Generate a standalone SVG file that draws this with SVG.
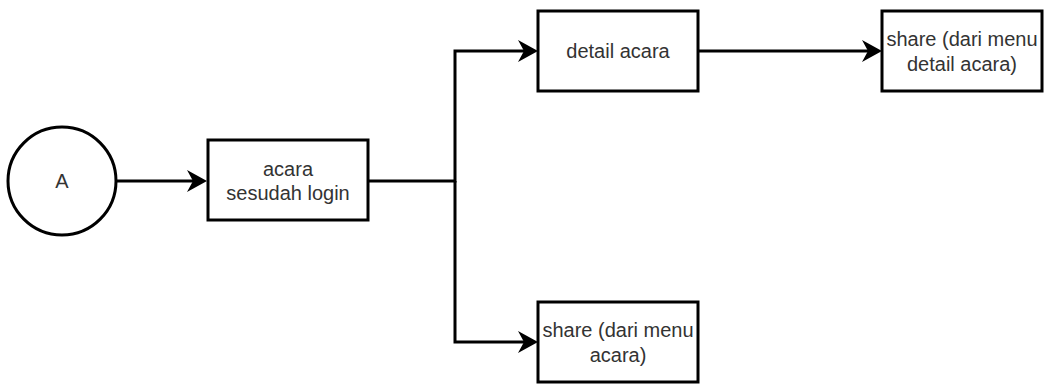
<svg xmlns="http://www.w3.org/2000/svg" width="1045" height="387" viewBox="0 0 1045 387">
<style>
.box{fill:#ffffff;stroke:#000000;stroke-width:3}
.lbl{font-family:"Liberation Sans",Arial,sans-serif;font-size:20px;fill:#333333;text-anchor:middle}
.edge{fill:none;stroke:#000000;stroke-width:3}
</style>
<defs>
<marker id="arr" markerUnits="userSpaceOnUse" viewBox="0 0 20 22" refX="10" refY="11" markerWidth="20" markerHeight="22" orient="auto">
<path d="M0,0 L20,11 L0,22 L6,11 Z" fill="#000000"/>
</marker>
</defs>
<rect width="1045" height="387" fill="#ffffff"/>
<g id="connectors">
<path class="edge" d="M115,181 H197" marker-end="url(#arr)"/>
<path class="edge" d="M368,181 H455 V51 H528" marker-end="url(#arr)"/>
<path class="edge" d="M455,181 V342 H528" marker-end="url(#arr)"/>
<path class="edge" d="M698,51 H872" marker-end="url(#arr)"/>
</g>
<g id="node-a">
<circle class="box" cx="62" cy="181" r="54"/>
<text class="lbl" x="62" y="188">A</text>
</g>
<g id="node-acara-login">
<rect class="box" x="208" y="140" width="160" height="80"/>
<text class="lbl" x="288" y="176">acara</text>
<text class="lbl" x="288" y="200">sesudah login</text>
</g>
<g id="node-detail-acara">
<rect class="box" x="538" y="11" width="160" height="80"/>
<text class="lbl" x="618" y="58">detail acara</text>
</g>
<g id="node-share-detail">
<rect class="box" x="882" y="11" width="160" height="80"/>
<text class="lbl" x="962" y="46">share (dari menu</text>
<text class="lbl" x="962" y="71">detail acara)</text>
</g>
<g id="node-share-acara">
<rect class="box" x="538" y="302" width="160" height="80"/>
<text class="lbl" x="618" y="337">share (dari menu</text>
<text class="lbl" x="618" y="362">acara)</text>
</g>
</svg>
